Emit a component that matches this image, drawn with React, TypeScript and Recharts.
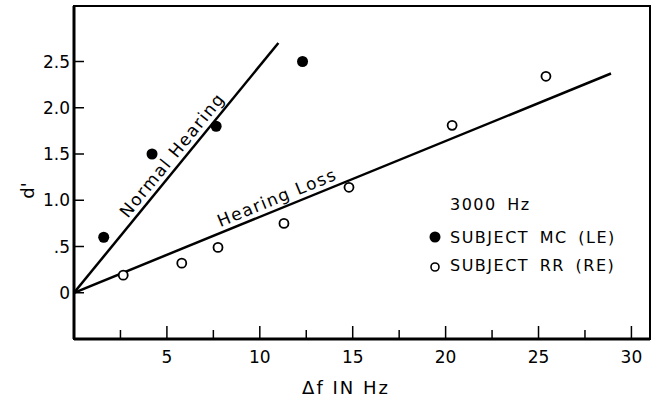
import React from 'react';
import { ComposedChart, Scatter, XAxis, YAxis, ReferenceArea, ReferenceDot } from 'recharts';

const FONT = '"DejaVu Sans", sans-serif';

// axis ticks (minor every 2.5, labels on the 5s)
const xTicks = [2.5, 5, 7.5, 10, 12.5, 15, 17.5, 20, 22.5, 25, 27.5, 30];
const yTicks = [0, 0.5, 1, 1.5, 2, 2.5];

// measured d' values
const subjectMC = [
  { x: 1.6, y: 0.6 },
  { x: 4.2, y: 1.5 },
  { x: 7.65, y: 1.8 },
  { x: 12.3, y: 2.5 },
];
const subjectRR = [
  { x: 2.65, y: 0.19 },
  { x: 5.8, y: 0.32 },
  { x: 7.75, y: 0.49 },
  { x: 11.3, y: 0.75 },
  { x: 14.8, y: 1.14 },
  { x: 20.35, y: 1.81 },
  { x: 25.4, y: 2.34 },
];

// fitted lines through the origin
const normalFit = [{ x: 0, y: 0 }, { x: 11, y: 2.7 }];
const lossFit = [{ x: 0, y: 0 }, { x: 28.9, y: 2.37 }];

const legendTitle = '3000 Hz';
const legendItems = [
  { name: 'SUBJECT MC (LE)', filled: true },
  { name: 'SUBJECT RR (RE)', filled: false },
];

const XTick = ({ x, y, payload }: any) => {
  const major = payload.value % 5 === 0;
  return (
    <g>
      <line x1={x} x2={x} y1={y} y2={y - (major ? 13 : 9)} stroke="#000" strokeWidth={1.5} />
      {major && (
        <text x={x} y={y + 24} textAnchor="middle" fontSize={17} fontFamily={FONT} fill="#000">
          {payload.value}
        </text>
      )}
    </g>
  );
};

const yLabel = (v: number) => (v === 0 ? '0' : v === 0.5 ? '.5' : v.toFixed(1));

const YTick = ({ x, y, payload }: any) => (
  <g>
    <line x1={x} x2={x + 10} y1={y} y2={y} stroke="#000" strokeWidth={1.5} />
    <text x={x - 4} y={y} dy={6} textAnchor="end" fontSize={17} fontFamily={FONT} fill="#000">
      {yLabel(payload.value)}
    </text>
  </g>
);

const FilledDot = (p: any) => <circle cx={p.cx} cy={p.cy} r={5.5} fill="#000" />;
const OpenDot = (p: any) => <circle cx={p.cx} cy={p.cy} r={4.5} fill="#fff" stroke="#000" strokeWidth={1.8} />;

const RotatedText = (text: string, angle: number) => (p: any) => (
  <text
    x={p.cx}
    y={p.cy}
    textAnchor="middle"
    dominantBaseline="central"
    fontSize={17}
    letterSpacing={1.5}
    fontFamily={FONT}
    fill="#000"
    transform={`rotate(${angle}, ${p.cx}, ${p.cy})`}
  >
    {text}
  </text>
);

export default function App() {
  return (
    <div style={{ position: 'absolute', left: 0, top: 0, width: 656, height: 399, background: '#fff' }}>
      <ComposedChart width={656} height={399} margin={{ top: 6, right: 6, bottom: 0, left: 14 }}>
        <XAxis
          type="number"
          dataKey="x"
          domain={[0, 31]}
          ticks={xTicks}
          allowDataOverflow
          height={60}
          tickSize={0}
          tickMargin={0}
          tickLine={false}
          tick={<XTick />}
          axisLine={{ stroke: '#000', strokeWidth: 3 }}
          label={{
            content: ({ viewBox }: any) => (
              <text
                x={viewBox.x + viewBox.width / 2 - 16}
                y={viewBox.y + viewBox.height - 5}
                textAnchor="middle"
                fontSize={18}
                letterSpacing={2}
                fontFamily={FONT}
                fill="#000"
              >
                Δf IN Hz
              </text>
            ),
          }}
        />
        <YAxis
          type="number"
          dataKey="y"
          domain={[-0.5, 3.1]}
          ticks={yTicks}
          allowDataOverflow
          width={60}
          tickSize={0}
          tickMargin={0}
          tickLine={false}
          tick={<YTick />}
          axisLine={{ stroke: '#000', strokeWidth: 3 }}
          label={{
            content: ({ viewBox }: any) => {
              const cx = 27;
              const cy = viewBox.y + viewBox.height / 2 + 18;
              return (
                <text
                  x={cx}
                  y={cy}
                  textAnchor="middle"
                  dominantBaseline="central"
                  fontSize={18}
                  fontFamily={FONT}
                  fill="#000"
                  transform={`rotate(-90, ${cx}, ${cy})`}
                >
                  d'
                </text>
              );
            },
          }}
        />
        <ReferenceArea x1={0} x2={31} y1={-0.5} y2={3.1} fill="none" stroke="#000" strokeWidth={2} />
        <Scatter
          data={normalFit}
          line={{ stroke: '#000', strokeWidth: 2.5 }}
          shape={() => <g />}
          legendType="none"
          isAnimationActive={false}
        />
        <Scatter
          data={lossFit}
          line={{ stroke: '#000', strokeWidth: 2.5 }}
          shape={() => <g />}
          legendType="none"
          isAnimationActive={false}
        />
        <Scatter name={legendItems[0].name} data={subjectMC} fill="#000" shape={FilledDot} isAnimationActive={false} />
        <Scatter name={legendItems[1].name} data={subjectRR} fill="#fff" shape={OpenDot} isAnimationActive={false} />
        <ReferenceDot x={5.28} y={1.49} r={0} shape={RotatedText('Normal Hearing', -50.8)} />
        <ReferenceDot x={10.93} y={1.03} r={0} shape={RotatedText('Hearing Loss', -22.3)} />
      </ComposedChart>
      <div
        style={{
          position: 'absolute',
          left: 428,
          top: 195,
          fontFamily: FONT,
          fontSize: 16,
          letterSpacing: 1.5,
          wordSpacing: 4,
          color: '#000',
          whiteSpace: 'nowrap',
        }}
      >
        <div style={{ paddingLeft: 22, lineHeight: '20px', height: 20 }}>{legendTitle}</div>
        <div style={{ height: 8 }} />
        {legendItems.map((e) => (
          <div key={e.name} style={{ display: 'flex', alignItems: 'center', height: 28 }}>
            <svg width={14} height={14} style={{ marginRight: 8 }}>
              {e.filled ? (
                <circle cx={7} cy={7} r={5.5} fill="#000" />
              ) : (
                <circle cx={7} cy={9} r={4} fill="#fff" stroke="#000" strokeWidth={1.6} />
              )}
            </svg>
            <span>{e.name}</span>
          </div>
        ))}
      </div>
    </div>
  );
}
